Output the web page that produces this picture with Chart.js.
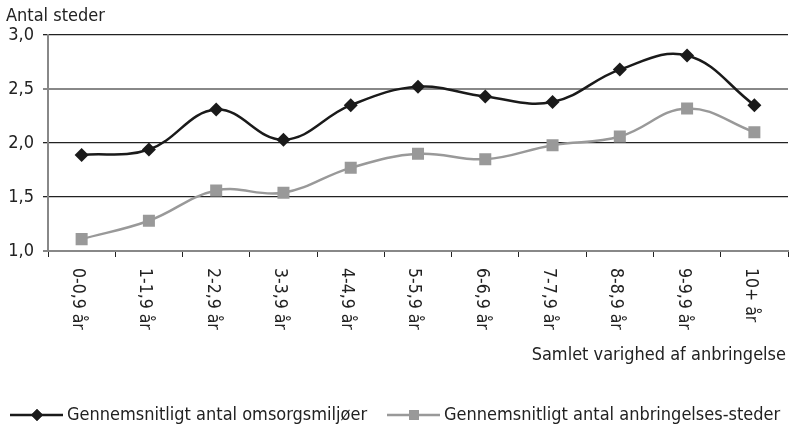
<!DOCTYPE html>
<html>
<head>
<meta charset="utf-8">
<script src="https://cdn.jsdelivr.net/npm/chart.js@4"></script>
<style>
  html, body { margin: 0; padding: 0; background: #fff; }
  #wrap { width: 789px; height: 428px; }
</style>
</head>
<body>
<div id="wrap"><canvas id="myChart" width="789" height="428"></canvas></div>
<script>
// chart data
const categories = ['0-0,9 år', '1-1,9 år', '2-2,9 år', '3-3,9 år', '4-4,9 år', '5-5,9 år',
  '6-6,9 år', '7-7,9 år', '8-8,9 år', '9-9,9 år', '10+ år'];
const omsorgsmiljoer = [1.89, 1.94, 2.31, 2.03, 2.35, 2.52, 2.43, 2.38, 2.68, 2.81, 2.35];
const anbringelsesSteder = [1.11, 1.28, 1.56, 1.54, 1.77, 1.90, 1.85, 1.98, 2.06, 2.32, 2.10];
const seriesNames = ['Gennemsnitligt antal omsorgsmiljøer', 'Gennemsnitligt antal anbringelses-steder'];
const yTitle = 'Antal steder';
const xTitle = 'Samlet varighed af anbringelse';

const FONT = '"DejaVu Sans Condensed", "Liberation Sans Narrow", Roboto, sans-serif';
const TXT = '#222';
const BLACK = '#1a1a1a';
const GREY = '#999';

// draws the rotated x labels, titles and the legend
const extras = {
  id: 'extras',
  afterDraw(chart) {
    const ctx = chart.ctx;
    const x = chart.scales.x;
    ctx.save();
    ctx.fillStyle = TXT;

    // x labels, turned clockwise
    ctx.font = '17.5px ' + FONT;
    categories.forEach((lab, i) => {
      const px = x.getPixelForTick(i);
      ctx.save();
      ctx.translate(px - 4, x.top + 17);
      ctx.rotate(Math.PI / 2);
      ctx.textAlign = 'left';
      ctx.textBaseline = 'middle';
      ctx.fillText(lab, 0, 0);
      ctx.restore();
    });

    // axis titles
    ctx.font = '18px ' + FONT;
    ctx.textBaseline = 'middle';
    ctx.textAlign = 'left';
    ctx.fillText(yTitle, 6, 16);
    ctx.textAlign = 'right';
    ctx.fillText(xTitle, 786, 355);

    // legend
    const items = [
      { x: 10, color: BLACK, style: 'rectRot', r: 6 },
      { x: 387, color: GREY, style: 'rect', r: 7 }
    ];
    const ly = 415;
    items.forEach((it, i) => {
      ctx.strokeStyle = it.color;
      ctx.lineWidth = 2.5;
      ctx.beginPath();
      ctx.moveTo(it.x, ly);
      ctx.lineTo(it.x + 53, ly);
      ctx.stroke();
      ctx.fillStyle = it.color;
      Chart.helpers.drawPoint(ctx, { pointStyle: it.style, radius: it.r, borderWidth: 0 }, it.x + 27, ly);
      ctx.fill();
      ctx.fillStyle = TXT;
      ctx.textAlign = 'left';
      ctx.fillText(seriesNames[i], it.x + 57, ly);
    });
    ctx.restore();
  }
};

const gridColors = ['#888', '#222', '#222', '#888', '#222'];
const gridWidths = [2, 1.3, 1.3, 2, 1.3];

new Chart(document.getElementById('myChart'), {
  type: 'line',
  data: {
    labels: categories,
    datasets: [{
      label: seriesNames[0],
      data: omsorgsmiljoer,
      borderColor: BLACK,
      backgroundColor: BLACK,
      borderWidth: 2.5,
      tension: 0.4,
      pointStyle: 'rectRot',
      pointRadius: 7,
      pointBorderWidth: 0
    }, {
      label: seriesNames[1],
      data: anbringelsesSteder,
      borderColor: GREY,
      backgroundColor: GREY,
      borderWidth: 2.5,
      tension: 0.4,
      pointStyle: 'rect',
      pointRadius: 8.5,
      pointBorderWidth: 0
    }]
  },
  options: {
    responsive: false,
    animation: false,
    layout: { autoPadding: false, padding: { top: 35, right: 1, left: 0, bottom: 0 } },
    plugins: {
      legend: { display: false },
      tooltip: { enabled: false }
    },
    scales: {
      x: {
        offset: true,
        afterFit(scale) { scale.height = 177; },
        grid: {
          drawOnChartArea: false,
          drawTicks: true,
          tickLength: 6,
          color: '#222',
          offset: true
        },
        border: { color: '#888', width: 2 },
        ticks: { display: false }
      },
      y: {
        min: 1.0,
        max: 3.0,
        afterFit(scale) { scale.width = 48; },
        ticks: {
          stepSize: 0.5,
          padding: 9,
          color: TXT,
          font: { family: FONT, size: 18 },
          callback: v => v.toFixed(1).replace('.', ',')
        },
        grid: {
          color: ctx => gridColors[ctx.index],
          lineWidth: ctx => gridWidths[ctx.index],
          tickLength: 5
        },
        border: { color: '#888', width: 2 }
      }
    }
  },
  plugins: [extras]
});
</script>
</body>
</html>
